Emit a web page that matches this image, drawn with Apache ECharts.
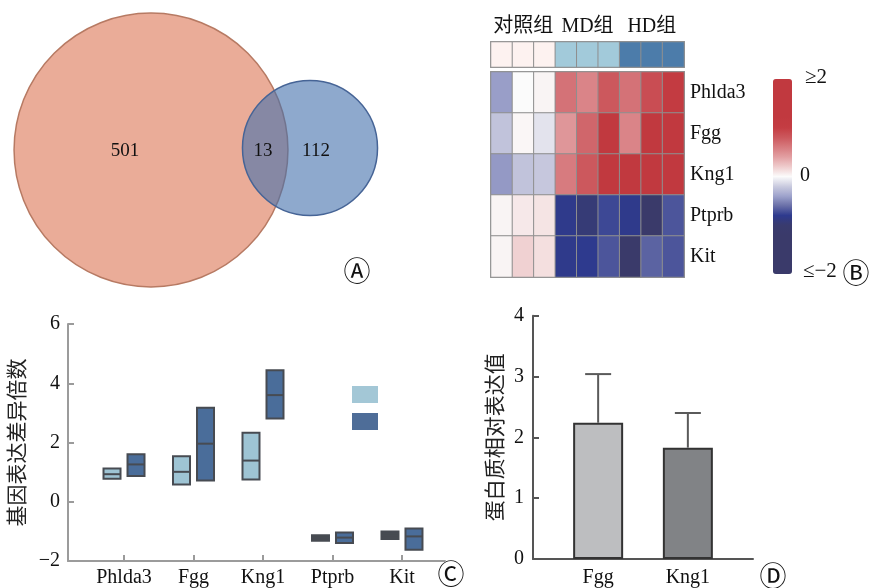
<!DOCTYPE html>
<html>
<head>
<meta charset="utf-8">
<script src="https://cdn.jsdelivr.net/npm/echarts@6/dist/echarts.min.js"></script>
<style>html,body{margin:0;padding:0;background:#fff;}#c{width:869px;height:588px;}</style>
</head>
<body>
<div id="c"></div>
<script>
// ---------- DATA ----------
// Panel A: Venn region counts [only set 1, overlap, only set 2]
const vennRegionCounts = [501, 13, 112];
// Panel B: heatmap
const heatGenes = ['Phlda3', 'Fgg', 'Kng1', 'Ptprb', 'Kit'];
const heatSamples = ['C1', 'C2', 'C3', 'MD1', 'MD2', 'MD3', 'HD1', 'HD2', 'HD3'];
const heatPhlda3 = [-0.42, 0.0, 0.03, 0.65, 0.55, 0.8, 0.65, 0.88, 1.1];
const heatFgg    = [-0.24, 0.02, -0.1, 0.45, 0.72, 1.2, 0.55, 1.2, 1.2];
const heatKng1   = [-0.44, -0.24, -0.22, 0.6, 0.8, 1.3, 1.3, 1.25, 1.25];
const heatPtprb  = [0.03, 0.08, 0.1, -0.82, -0.95, -0.75, -0.82, -1.5, -0.7];
const heatKit    = [0.03, 0.18, 0.12, -0.82, -0.8, -0.7, -1.5, -0.65, -0.7];
const heatValues = [heatPhlda3, heatFgg, heatKng1, heatPtprb, heatKit];
const groupNames = ['对照组', 'MD组', 'HD组'];
const sampleGroups = [0, 0, 0, 1, 1, 1, 2, 2, 2];
const colorbarLabels = ['≥2', '0', '≤−2'];
// Panel C: fold change boxes [low, median, high]
const fcGenes = ['Phlda3', 'Fgg', 'Kng1', 'Ptprb', 'Kit'];
const fcSeriesNames = ['MD组', 'HD组'];
const fcMD = [[0.78, 0.93, 1.12], [0.58, 1.01, 1.54], [0.75, 1.39, 2.33], [-1.32, -1.22, -1.13], [-1.26, -1.13, -1.0]];
const fcHD = [[0.87, 1.26, 1.60], [0.72, 1.96, 3.17], [2.81, 3.60, 4.44], [-1.39, -1.21, -1.04], [-1.62, -1.17, -0.90]];
const fcAxisName = '基因表达差异倍数';
// Panel D: protein relative expression
const protGenes = ['Fgg', 'Kng1'];
const protMean = [2.24, 1.83];
const protSD = [0.80, 0.57];
const protAxisName = '蛋白质相对表达值';
const panelLetters = ['Ⓐ', 'Ⓑ', 'Ⓒ', 'Ⓓ'];

// ---------- STYLE / LAYOUT ----------
const SERIF = "'Liberation Serif','Noto Sans CJK SC',serif";
const CIRC = "'Noto Sans CJK SC','DejaVu Sans',sans-serif";
const TXT = '#111';
const VENN_CENTERS = [[151, 150], [310, 148]];
const VENN_K = 6.04;
const VENN_LABEL_POS = [[125, 151], [263, 151], [316, 151]];
const vennFill = ['#EAAC98', 'rgba(66,112,172,0.6)'];
const vennStroke = ['#B77A63', '#466496'];
const heatColors = ['#3A3A6A', '#3A3A6A', '#3A3A6A', '#3A3A6A', '#3A3A6A', '#393B6E', '#2E3A8E', '#6A70A8', '#9EA3CC', '#CACBDF', '#FBFBFB', '#EFCCCD', '#E29FA2', '#D77B7F', '#CC585D', '#C43D43', '#C1393F', '#C1393F', '#C1393F', '#C1393F', '#C1393F'];
const groupColors = ['#FDF2F0', '#A2CADA', '#4C7CAA'];
const boxFill = ['#9EC4D4', '#4A6D9A'];
const boxStroke = '#474B52';
const barColors = ['#BDBEC0', '#818386'];

const chart = echarts.init(document.getElementById('c'), null, { renderer: 'canvas' });

const vennSetSizes = [vennRegionCounts[0] + vennRegionCounts[1], vennRegionCounts[2] + vennRegionCounts[1]];

function boxRender(offset, fill) {
  return function (params, api) {
    const x = api.value(0);
    const lo = api.coord([x, api.value(1)]);
    const md = api.coord([x, api.value(2)]);
    const hi = api.coord([x, api.value(3)]);
    const cx = lo[0] + offset, w = 17, h = lo[1] - hi[1];
    const thin = h < 9;
    return {
      type: 'group', children: [
        { type: 'rect', shape: { x: cx - w / 2, y: hi[1], width: w, height: h }, style: { fill: thin ? boxStroke : fill, stroke: boxStroke, lineWidth: 2 } },
        { type: 'line', shape: { x1: cx - w / 2, y1: md[1], x2: cx + w / 2, y2: md[1] }, style: { stroke: boxStroke, lineWidth: 2 } }
      ]
    };
  };
}

const grayAxis = { onZero: false, lineStyle: { color: '#9b9b9b', width: 2 } };
const darkAxis = { onZero: false, lineStyle: { color: '#555', width: 2 } };
const minusFmt = v => String(v).replace('-', '−');

const option = {
  backgroundColor: '#fff',
  animation: false,
  grid: [
    { left: 0, top: 0, width: 400, height: 290 },
    { left: 491, top: 72, width: 193, height: 205, show: true, borderColor: '#999', borderWidth: 2, backgroundColor: 'transparent' },
    { left: 491, top: 42, width: 193, height: 25, show: true, borderColor: '#999', borderWidth: 2, backgroundColor: 'transparent' },
    { left: 68, top: 324, width: 377, height: 238 },
    { left: 533, top: 315.7, width: 220, height: 246.6 }
  ],
  xAxis: [
    { gridIndex: 0, type: 'value', min: 0, max: 400, show: false },
    { gridIndex: 1, type: 'category', data: heatSamples, show: false },
    { gridIndex: 2, type: 'category', data: heatSamples, position: 'top',
      axisLine: { show: false }, axisTick: { show: false }, splitLine: { show: false },
      axisLabel: { interval: 0, margin: 5, fontFamily: SERIF, fontSize: 20, color: TXT,
        formatter: (v, i) => (i % 3 === 1 ? groupNames[sampleGroups[i]] : '') } },
    { gridIndex: 3, type: 'value', min: -0.806, max: 4.619, splitLine: { show: false },
      axisLine: grayAxis,
      axisTick: { inside: true, length: 6, lineStyle: { color: '#9b9b9b', width: 2 }, customValues: [0, 1, 2, 3, 4] },
      axisLabel: { customValues: [0, 1, 2, 3, 4], margin: 7, fontFamily: SERIF, fontSize: 20, color: TXT,
        formatter: v => fcGenes[Math.round(v)] || '' } },
    { gridIndex: 4, type: 'value', min: -0.726, max: 1.726, splitLine: { show: false },
      axisLine: darkAxis, axisTick: { show: false },
      axisLabel: { customValues: [0, 1], margin: 9, fontFamily: SERIF, fontSize: 20, color: TXT,
        formatter: v => protGenes[Math.round(v)] || '' } }
  ],
  yAxis: [
    { gridIndex: 0, type: 'value', min: 0, max: 290, inverse: true, show: false },
    { gridIndex: 1, type: 'category', data: heatGenes, inverse: true, position: 'right',
      axisLine: { show: false }, axisTick: { show: false },
      axisLabel: { margin: 6, fontFamily: SERIF, fontSize: 20, color: TXT } },
    { gridIndex: 2, type: 'category', data: ['group'], show: false },
    { gridIndex: 3, type: 'value', min: -2, max: 6, interval: 2, splitLine: { show: false },
      axisLine: Object.assign({ show: true }, grayAxis),
      axisTick: { show: true, inside: true, length: 6, lineStyle: { color: '#9b9b9b', width: 2 } },
      axisLabel: { margin: 8, fontFamily: SERIF, fontSize: 20, color: TXT, formatter: minusFmt },
      name: fcAxisName, nameLocation: 'middle', nameGap: 39,
      nameTextStyle: { fontFamily: SERIF, fontSize: 21, color: '#222' } },
    { gridIndex: 4, type: 'value', min: 0, max: 4, interval: 1, splitLine: { show: false },
      axisLine: Object.assign({ show: true }, darkAxis),
      axisTick: { show: true, inside: true, length: 6, lineStyle: { color: '#555', width: 2 } },
      axisLabel: { margin: 9, fontFamily: SERIF, fontSize: 20, color: TXT },
      name: protAxisName, nameLocation: 'middle', nameGap: 26,
      nameTextStyle: { fontFamily: SERIF, fontSize: 21, color: '#222' } }
  ],
  visualMap: [
    { type: 'continuous', seriesIndex: 2, dimension: 2, min: -2, max: 2, calculable: false, show: true,
      orient: 'vertical', left: 773, top: 79, itemWidth: 19, itemHeight: 195, padding: 0,
      hoverLink: false, inRange: { color: heatColors } },
    { type: 'piecewise', seriesIndex: 3, dimension: 2, show: false,
      pieces: groupColors.map((c, i) => ({ value: i, color: c })) }
  ],
  legend: {
    data: fcSeriesNames, left: 352, top: 386, orient: 'vertical', icon: 'rect',
    itemWidth: 26, itemHeight: 17, itemGap: 10, padding: 0, formatter: () => '',
    itemStyle: { borderWidth: 0 }, selectedMode: false
  },
  series: [
    { type: 'custom', name: 'venn', xAxisIndex: 0, yAxisIndex: 0, silent: true,
      data: vennSetSizes.map((s, i) => [i, s]),
      renderItem: (params, api) => {
        const i = api.value(0);
        const c = api.coord(VENN_CENTERS[i]);
        const r = api.size([VENN_K * Math.sqrt(api.value(1)), 0])[0];
        return { type: 'circle', shape: { cx: c[0], cy: c[1], r: r }, style: { fill: vennFill[i], stroke: vennStroke[i], lineWidth: 1.5 } };
      } },
    { type: 'custom', name: 'vennLabels', xAxisIndex: 0, yAxisIndex: 0, silent: true, z: 5,
      data: vennRegionCounts.map((v, i) => [i, v]),
      renderItem: (params, api) => {
        const i = api.value(0);
        const p = api.coord(VENN_LABEL_POS[i]);
        return { type: 'text', style: { text: String(api.value(1)), x: p[0], y: p[1], align: 'center', verticalAlign: 'middle', font: '19px ' + SERIF, fill: TXT } };
      } },
    { type: 'heatmap', name: 'expr', xAxisIndex: 1, yAxisIndex: 1,
      data: heatValues.flatMap((row, gi) => row.map((v, si) => [si, gi, v])),
      itemStyle: { borderColor: '#8f8f8f', borderWidth: 1 }, emphasis: { disabled: true } },
    { type: 'heatmap', name: 'group', xAxisIndex: 2, yAxisIndex: 2,
      data: sampleGroups.map((g, si) => [si, 0, g]),
      itemStyle: { borderColor: '#8f8f8f', borderWidth: 1 }, emphasis: { disabled: true } },
    { type: 'custom', name: fcSeriesNames[0], xAxisIndex: 3, yAxisIndex: 3, itemStyle: { color: '#A3C7D6' },
      data: fcMD.map((d, i) => [i, d[0], d[1], d[2]]), renderItem: boxRender(-12, boxFill[0]) },
    { type: 'custom', name: fcSeriesNames[1], xAxisIndex: 3, yAxisIndex: 3, itemStyle: { color: '#4E6D98' },
      data: fcHD.map((d, i) => [i, d[0], d[1], d[2]]), renderItem: boxRender(12, boxFill[1]) },
    { type: 'bar', name: 'protein', xAxisIndex: 4, yAxisIndex: 4, barWidth: 50,
      data: protMean.map((v, i) => [i, v]),
      itemStyle: { color: p => barColors[p.dataIndex], borderColor: '#333', borderWidth: 2 } },
    { type: 'custom', name: 'err', xAxisIndex: 4, yAxisIndex: 4, z: 4,
      data: protMean.map((m, i) => [i, m, m + protSD[i]]),
      renderItem: (params, api) => {
        const b = api.coord([api.value(0), api.value(1)]);
        const t = api.coord([api.value(0), api.value(2)]);
        const st = { stroke: '#5a5a5a', lineWidth: 2 };
        return { type: 'group', children: [
          { type: 'line', shape: { x1: b[0], y1: b[1], x2: t[0], y2: t[1] }, style: st },
          { type: 'line', shape: { x1: t[0] - 13, y1: t[1], x2: t[0] + 13, y2: t[1] }, style: st }
        ] };
      } }
  ],
  graphic: [
    { type: 'text', left: 805, top: 67, style: { text: colorbarLabels[0], font: '21px ' + SERIF, fill: TXT } },
    { type: 'text', left: 800, top: 166, style: { text: colorbarLabels[1], font: '20px ' + SERIF, fill: TXT } },
    { type: 'text', left: 803, top: 261, style: { text: colorbarLabels[2], font: '21px ' + SERIF, fill: TXT } },
    { type: 'text', x: 357, y: 271, style: { text: panelLetters[0], font: '27px ' + CIRC, fill: TXT, align: 'center', verticalAlign: 'middle' } },
    { type: 'text', x: 856, y: 273, style: { text: panelLetters[1], font: '27px ' + CIRC, fill: TXT, align: 'center', verticalAlign: 'middle' } },
    { type: 'text', x: 451, y: 574, style: { text: panelLetters[2], font: '27px ' + CIRC, fill: TXT, align: 'center', verticalAlign: 'middle' } },
    { type: 'text', x: 773, y: 576, style: { text: panelLetters[3], font: '27px ' + CIRC, fill: TXT, align: 'center', verticalAlign: 'middle' } }
  ]
};
chart.setOption(option);
</script>
</body>
</html>
